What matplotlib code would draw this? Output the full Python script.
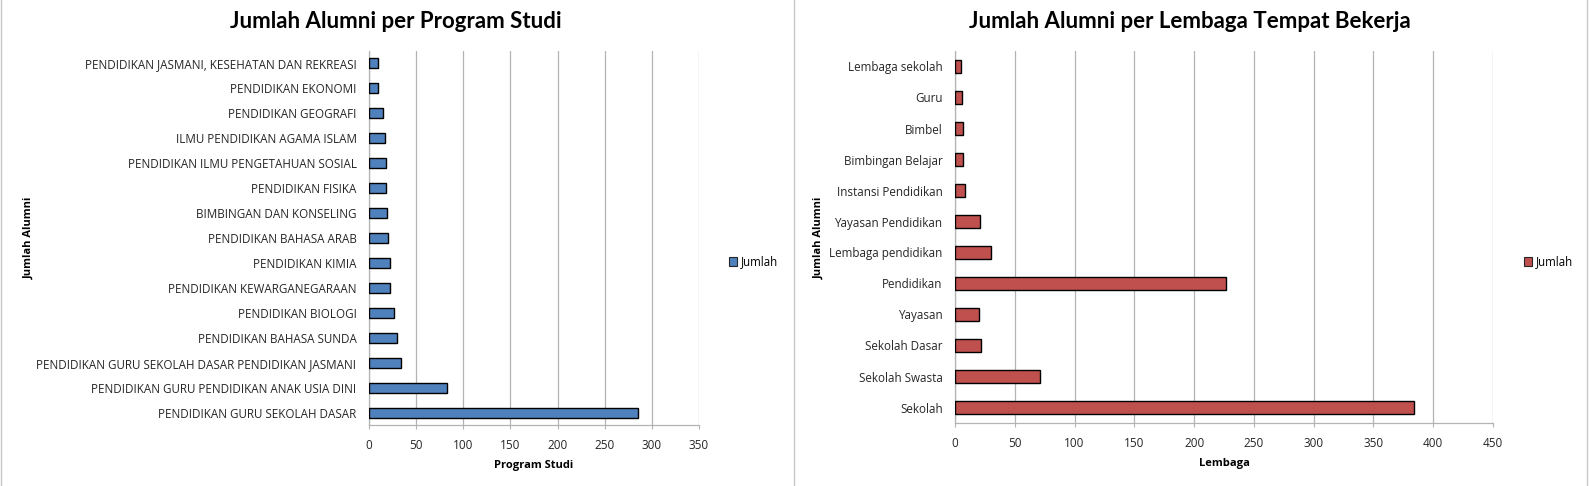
import matplotlib.pyplot as plt
from matplotlib.patches import Patch
from matplotlib.lines import Line2D

# data, listed top to bottom as in the chart
prodi = [
    "PENDIDIKAN JASMANI, KESEHATAN DAN REKREASI",
    "PENDIDIKAN EKONOMI",
    "PENDIDIKAN GEOGRAFI",
    "ILMU PENDIDIKAN AGAMA ISLAM",
    "PENDIDIKAN ILMU PENGETAHUAN SOSIAL",
    "PENDIDIKAN FISIKA",
    "BIMBINGAN DAN KONSELING",
    "PENDIDIKAN BAHASA ARAB",
    "PENDIDIKAN KIMIA",
    "PENDIDIKAN KEWARGANEGARAAN",
    "PENDIDIKAN BIOLOGI",
    "PENDIDIKAN BAHASA SUNDA",
    "PENDIDIKAN GURU SEKOLAH DASAR PENDIDIKAN JASMANI",
    "PENDIDIKAN GURU PENDIDIKAN ANAK USIA DINI",
    "PENDIDIKAN GURU SEKOLAH DASAR",
]
jumlah_prodi = [10, 10, 15, 17, 18, 18, 19, 20, 22, 22, 27, 30, 34, 83, 285]

lembaga = [
    "Lembaga sekolah",
    "Guru",
    "Bimbel",
    "Bimbingan Belajar",
    "Instansi Pendidikan",
    "Yayasan Pendidikan",
    "Lembaga pendidikan",
    "Pendidikan",
    "Yayasan",
    "Sekolah Dasar",
    "Sekolah Swasta",
    "Sekolah",
]
jumlah_lembaga = [5, 6, 7, 7, 8, 21, 30, 227, 20, 22, 71, 384]

BLUE = "#4F81BD"
RED = "#C0504D"
GRID = "#B3B3B3"
W, H = 1589, 486

plt.rcParams['font.family'] = ['Open Sans', 'DejaVu Sans']

fig = plt.figure(figsize=(W / 100, H / 100), dpi=100)


def fx(px):
    return px / W


def fy(py):
    return 1 - py / H


def bar_panel(rect, cats, vals, color, xmax, title, tx, xlabel, ylabel_x, legend_x):
    ax = fig.add_axes(rect)
    ypos = list(range(len(cats)))[::-1]
    ax.barh(ypos, vals, height=0.4, color=color, edgecolor='black', linewidth=1, zorder=3)
    ax.set_ylim(-0.5, len(cats) - 0.5)
    ax.set_xlim(0, xmax)
    ax.set_xticks(range(0, xmax + 1, 50))
    ax.set_yticks(ypos)
    ax.set_yticklabels(cats, fontsize=8.4, color='#262626')
    ax.tick_params(axis='y', length=0, pad=9)
    ax.tick_params(axis='x', length=3, color=GRID, labelsize=8.5, pad=7, labelcolor='#262626')
    ax.grid(axis='x', color=GRID, linewidth=0.9, zorder=0)
    for s in ('top', 'right'):
        ax.spines[s].set_visible(False)
    for s in ('left', 'bottom'):
        ax.spines[s].set_color(GRID)
        ax.spines[s].set_linewidth(0.9)
    fig.text(fx(tx), fy(21), title, ha='center', va='center', fontsize=16,
             fontweight='bold', family=['Lato', 'DejaVu Sans'])
    ax.set_xlabel(xlabel, fontsize=8, fontweight='bold', labelpad=6)
    fig.text(fx(ylabel_x), fy(238), "Jumlah Alumni", rotation=90, ha='center', va='center',
             fontsize=8, fontweight='bold')
    fig.legend(handles=[Patch(facecolor=color, edgecolor='#262626', linewidth=0.8, label='Jumlah')],
               loc='center left', bbox_to_anchor=(fx(legend_x), fy(262)), frameon=False,
               fontsize=8.3, handlelength=0.7, handleheight=0.7, handletextpad=0.3,
               borderaxespad=0, borderpad=0)
    return ax


bar_panel([fx(369), fy(425), fx(330), 374 / H], prodi, jumlah_prodi, BLUE, 350,
          "Jumlah Alumni per Program Studi", 396, "Program Studi", 29, 729)
bar_panel([fx(955), fy(423), fx(538), 372 / H], lembaga, jumlah_lembaga, RED, 450,
          "Jumlah Alumni per Lembaga Tempat Bekerja", 1190, "Lembaga", 819, 1524)

# chart frames
for x in (1, 794, 1587):
    fig.add_artist(Line2D([fx(x), fx(x)], [0, 1], color='#C8C8C8', linewidth=1))

fig.savefig("out.png", dpi=100)
